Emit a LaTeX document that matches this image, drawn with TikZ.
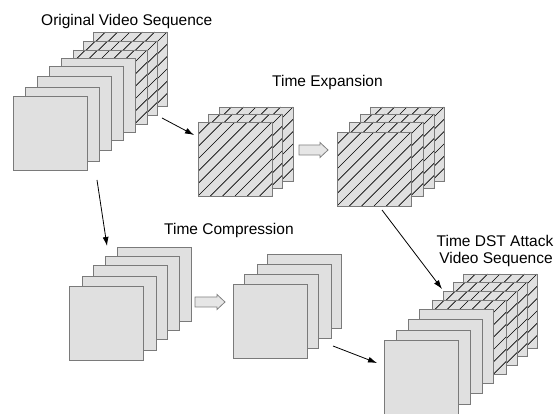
\documentclass[tikz,border=0pt]{standalone}
\usepackage{fontspec}
\setmainfont{Liberation Sans}
\usetikzlibrary{arrows.meta}
\definecolor{framefill}{HTML}{E0E0E0}
\definecolor{frameedge}{HTML}{7A7A7A}
\definecolor{blockfill}{HTML}{E6E6E6}
\definecolor{blockedge}{HTML}{808080}
\begin{document}
\begin{tikzpicture}[x=1pt,y=-1pt,
  frame/.style={draw=frameedge, fill=framefill, line width=0.8pt,
    minimum size=74pt, inner sep=0pt, outer sep=0pt, anchor=north west},
  hatched/.style={frame, path picture={
    \coordinate (hsw) at (path picture bounding box.south west);
    \foreach \k in {-6,...,6}{
      \draw[line width=0.65pt, black] ([xshift=\k*12.333pt]hsw) -- ++(74,-74);}
  }},
  label/.style={font=\fontsize{15.5}{18}\selectfont, inner sep=0pt},
  conn/.style={line width=0.8pt, -{Latex[length=9pt,width=6pt]}},
  block/.style={draw=blockedge, fill=blockfill, line width=0.8pt, line join=miter}
]
\useasboundingbox (0,0) rectangle (555,414);

% original sequence
\node[hatched] (o8) at (93,32) {};
\node[hatched] (o7) at (83,41) {};
\node[hatched] (o6) at (73,50) {};
\node[frame] (o5) at (61,58) {};
\node[frame] (o4) at (49,66) {};
\node[frame] (o3) at (37,76) {};
\node[frame] (o2) at (25,87) {};
\node[frame] (o1) at (13,96) {};
\node[label, anchor=base west] (tOrig) at (41,26) {Original Video Sequence};

% time expansion, input
\node[hatched] (e3) at (219,107) {};
\node[hatched] (e2) at (208,114) {};
\node[hatched] (e1) at (198,122) {};
% time expansion, output
\node[hatched] (f4) at (370,107) {};
\node[hatched] (f3) at (360,114) {};
\node[hatched] (f2) at (349,122) {};
\node[hatched] (f1) at (337,132) {};
\node[label, anchor=base west] (tExp) at (272,87) {Time Expansion};

% time compression, input
\node[frame] (c5) at (117,247) {};
\node[frame] (c4) at (105,256) {};
\node[frame] (c3) at (93,265) {};
\node[frame] (c2) at (82,276) {};
\node[frame] (c1) at (69,286) {};
% time compression, output
\node[frame] (d4) at (267,254) {};
\node[frame] (d3) at (257,264) {};
\node[frame] (d2) at (244,274) {};
\node[frame] (d1) at (233,284) {};
\node[label, anchor=base west] (tComp) at (164,235) {Time Compression};

% attacked sequence
\node[hatched] (t8) at (463,274) {};
\node[hatched] (t7) at (453,282) {};
\node[hatched] (t6) at (443,291) {};
\node[hatched] (t5) at (432,300) {};
\node[frame] (t4) at (419,309) {};
\node[frame] (t3) at (408,319) {};
\node[frame] (t2) at (396,330) {};
\node[frame] (t1) at (384,340) {};
\node[label, anchor=base] (tDst1) at (495,246.7) {Time DST Attack};
\node[label, anchor=base] (tDst2) at (496,263.3) {Video Sequence};

% hollow block arrows
\draw[block] (299,145) -- (320,145) -- (320,142.5) -- (328,150) -- (320,157.5)
  -- (320,155) -- (299,155) -- cycle;
\draw[block] (195,297) -- (217,297) -- (217,294.5) -- (225,302) -- (217,309.5)
  -- (217,307) -- (195,307) -- cycle;

% connectors
\coordinate (a1s) at (162,118); \coordinate (a1e) at (194,135);
\coordinate (a2s) at (97,180);  \coordinate (a2e) at (107,246);
\coordinate (a3s) at (382,210); \coordinate (a3e) at (442,289);
\coordinate (a4s) at (333,346); \coordinate (a4e) at (377,363);
\draw[conn] (a1s) -- (a1e);
\draw[conn] (a2s) -- (a2e);
\draw[conn] (a3s) -- (a3e);
\draw[conn] (a4s) -- (a4e);
\end{tikzpicture}
\end{document}
